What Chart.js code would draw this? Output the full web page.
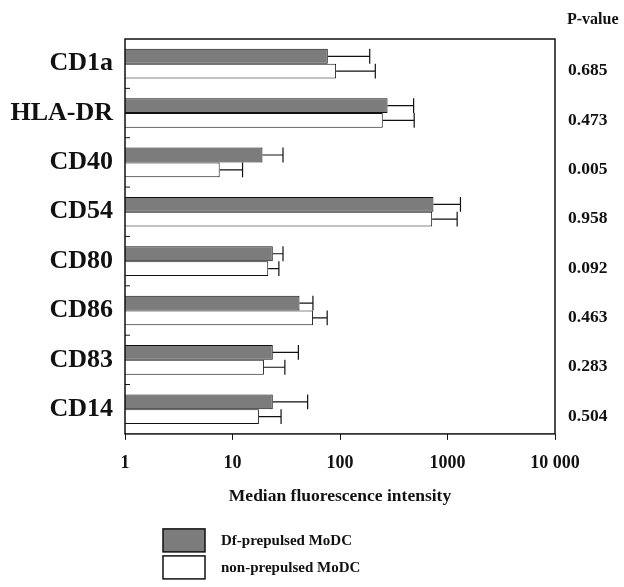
<!DOCTYPE html>
<html>
<head>
<meta charset="utf-8">
<script src="https://cdn.jsdelivr.net/npm/chart.js@4.4.0/dist/chart.umd.min.js"></script>
<style>
  body { margin: 0; background: #fff; }
  #chart-container { width: 624px; height: 587px; position: relative; }
</style>
</head>
<body>
<div id="chart-container"><canvas id="myChart"></canvas></div>
<script>
// Markers and median intensities
const categories = ['CD1a', 'HLA-DR', 'CD40', 'CD54', 'CD80', 'CD86', 'CD83', 'CD14'];
const dfValues = [77, 277, 19, 740, 23.7, 42, 23.7, 23.7];
const dfUpper = [189, 484, 29.5, 1320, 29.5, 56, 41, 50];
const nonValues = [92, 250, 7.6, 720, 21.5, 56, 19.6, 17.6];
const nonUpper = [213, 490, 12.4, 1230, 27, 76, 30.7, 28.3];
const pValues = ['0.685', '0.473', '0.005', '0.958', '0.092', '0.463', '0.283', '0.504'];
const xTicks = [1, 10, 100, 1000, 10000];

const serif = "'Liberation Serif', 'DejaVu Serif', serif";
const ink = '#111';

// error bars (upper side only)
const errorBars = {
    id: 'errorBars',
    afterDatasetsDraw(chart) {
        const ctx = chart.ctx;
        const xs = chart.scales.x;
        ctx.save();
        ctx.strokeStyle = ink;
        ctx.lineWidth = 1.2;
        chart.data.datasets.forEach((ds, i) => {
            const meta = chart.getDatasetMeta(i);
            meta.data.forEach((bar, j) => {
                const end = xs.getPixelForValue(ds.errorHigh[j]);
                const h = bar.height * 0.5;
                ctx.beginPath();
                ctx.moveTo(bar.x, bar.y);
                ctx.lineTo(end, bar.y);
                ctx.moveTo(end, bar.y - h);
                ctx.lineTo(end, bar.y + h);
                ctx.stroke();
            });
        });
        ctx.restore();
    }
};

// frame, p-values and legend
const extras = {
    id: 'extras',
    afterDraw(chart) {
        const ctx = chart.ctx;
        const area = chart.chartArea;
        const ys = chart.scales.y;
        ctx.save();
        ctx.strokeStyle = ink;
        ctx.lineWidth = 1.5;
        ctx.strokeRect(area.left, area.top, area.right - area.left, area.bottom - area.top);

        // small ticks on the left axis between categories
        ctx.lineWidth = 1;
        for (let i = 1; i < categories.length; i++) {
            const y = (ys.getPixelForValue(i - 1) + ys.getPixelForValue(i)) / 2;
            ctx.beginPath();
            ctx.moveTo(area.left, y);
            ctx.lineTo(area.left + 5, y);
            ctx.stroke();
        }

        ctx.fillStyle = ink;
        ctx.textBaseline = 'middle';
        ctx.textAlign = 'left';
        ctx.font = 'bold 16px ' + serif;
        ctx.fillText('P-value', area.right + 12, area.top - 19);
        ctx.font = 'bold 17.5px ' + serif;
        pValues.forEach((p, i) => {
            ctx.fillText(p, area.right + 13, ys.getPixelForValue(i) + 7);
        });

        // legend
        const lx = area.left + 38;
        let ly = area.bottom + 95;
        chart.data.datasets.forEach((ds) => {
            ctx.fillStyle = ds.backgroundColor;
            ctx.fillRect(lx, ly, 42, 23);
            ctx.strokeStyle = ink;
            ctx.lineWidth = 1.5;
            ctx.strokeRect(lx, ly, 42, 23);
            ctx.fillStyle = ink;
            ctx.font = 'bold 15px ' + serif;
            ctx.fillText(ds.label, lx + 58, ly + 12);
            ly += 27;
        });
        ctx.restore();
    }
};

new Chart(document.getElementById('myChart').getContext('2d'), {
    type: 'bar',
    data: {
        labels: categories,
        datasets: [
            {
                label: 'Df-prepulsed MoDC',
                data: dfValues,
                errorHigh: dfUpper,
                backgroundColor: '#7c7c7c',
                borderColor: ink,
                borderWidth: 1
            },
            {
                label: 'non-prepulsed MoDC',
                data: nonValues,
                errorHigh: nonUpper,
                backgroundColor: '#ffffff',
                borderColor: ink,
                borderWidth: 1
            }
        ]
    },
    options: {
        indexAxis: 'y',
        responsive: true,
        maintainAspectRatio: false,
        animation: false,
        categoryPercentage: 0.6,
        barPercentage: 1.0,
        layout: {
            padding: { top: 39, right: 69, bottom: 82, left: 0 }
        },
        plugins: {
            legend: { display: false },
            tooltip: { enabled: false }
        },
        scales: {
            x: {
                type: 'logarithmic',
                min: 1,
                max: 10000,
                afterBuildTicks: (scale) => {
                    scale.ticks = xTicks.map(v => ({ value: v }));
                },
                ticks: {
                    padding: 13,
                    color: ink,
                    font: { family: serif, size: 18, weight: 'bold' },
                    callback: (v) => v === 10000 ? '10 000' : String(v)
                },
                grid: {
                    drawOnChartArea: false,
                    drawTicks: true,
                    tickLength: 6,
                    color: ink
                },
                border: { display: false },
                title: {
                    display: true,
                    text: 'Median fluorescence intensity',
                    color: ink,
                    font: { family: serif, size: 17.5, weight: 'bold', lineHeight: 1.0 },
                    padding: { top: 0, bottom: 0 }
                }
            },
            y: {
                afterFit: (scale) => { scale.width = 125; },
                ticks: {
                    padding: 12,
                    color: ink,
                    font: { family: serif, size: 26, weight: 'bold' }
                },
                grid: { display: false, drawTicks: false },
                border: { display: false }
            }
        }
    },
    plugins: [errorBars, extras]
});
</script>
</body>
</html>
